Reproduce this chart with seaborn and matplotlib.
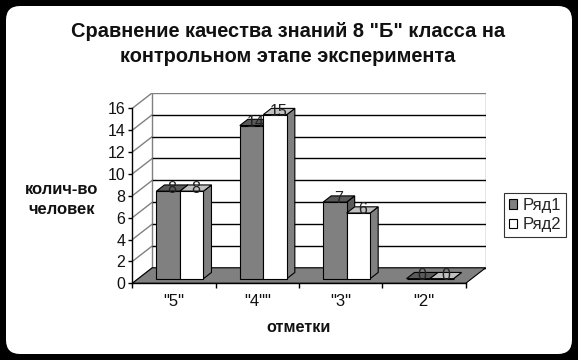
import numpy as np
import pandas as pd
import seaborn as sns
import matplotlib
matplotlib.use("Agg")
import matplotlib.pyplot as plt
from matplotlib.patches import Polygon, FancyBboxPatch, Patch
from matplotlib.transforms import IdentityTransform

# ---- data ----
categories = ['"5"', '"4""', '"3"', '"2"']
series_names = ["Ряд1", "Ряд2"]
row1 = [8, 14, 7, 0]
row2 = [8, 15, 6, 0]
yticks = [0, 2, 4, 6, 8, 10, 12, 14, 16]
title1 = 'Сравнение качества знаний 8 "Б" класса на'
title2 = "контрольном этапе эксперимента"
ylabel1 = "колич-во"
ylabel2 = "человек"
xlabel = "отметки"

sns.set_theme(style="white")
plt.rcParams["font.family"] = ["Liberation Sans", "DejaVu Sans"]

W, H = 578, 360
fig = plt.figure(figsize=(W / 100, H / 100), dpi=100, facecolor="black")
fig.add_artist(FancyBboxPatch((6, 6), 566, 348, boxstyle="round,pad=0,rounding_size=14",
                              transform=IdentityTransform(), fc="white", ec="none", zorder=-10))

px_cat = 83.35
px_unit = 10.9375
DX = 20 / px_cat
DY = 15.5 / px_unit
ymax = yticks[-1]
nc = len(categories)

left_px, bottom_px = 132.3, H - 283.3
ax = fig.add_axes([left_px / W, bottom_px / H, (nc + DX) * px_cat / W, (ymax + DY) * px_unit / H])
ax.set_facecolor("none")

df = pd.DataFrame({
    "cat": categories * 2,
    "series": [series_names[0]] * nc + [series_names[1]] * nc,
    "value": row1 + row2,
})
sns.barplot(data=df, x="cat", y="value", hue="series", palette=["#808080", "#ffffff"],
            width=0.564, edgecolor="black", linewidth=0.8, legend=False, ax=ax, zorder=5)

ax.set_xlim(-0.5, nc - 0.5 + DX)
ax.set_ylim(0, ymax + DY)

# back wall
ax.add_patch(Polygon([(-0.5 + DX, DY), (nc - 0.5 + DX, DY), (nc - 0.5 + DX, ymax + DY), (-0.5 + DX, ymax + DY)],
                     closed=True, fc="white", ec="#808080", lw=1, zorder=0.5))
for t in yticks[:-1]:
    ax.plot([-0.5 + DX, nc - 0.5 + DX], [t + DY, t + DY], color="black", lw=1, zorder=0.6)
    ax.plot([-0.5, -0.5 + DX], [t, t + DY], color="#808080", lw=1, zorder=0.6)
ax.plot([-0.5, -0.5 + DX], [ymax, ymax + DY], color="#808080", lw=1, zorder=0.6)
# floor
ax.add_patch(Polygon([(-0.5, 0), (nc - 0.5, 0), (nc - 0.5 + DX, DY), (-0.5 + DX, DY)],
                     closed=True, fc="#808080", ec="black", lw=0.8, zorder=1))

# 3D bars
f0 = 0.3
bdx, bdy = 0.4 * DX, 0.4 * DY
top_cols = ["#5a5a5a", "#c0c0c0"]
side_cols = ["#5a5a5a", "#808080"]
for s, cont in enumerate(ax.containers[:2]):
    for i, p in enumerate(cont.patches):
        p.set_x(p.get_x() + f0 * DX)
        p.set_y(p.get_y() + f0 * DY)
        x, y0, w, h = p.get_x(), p.get_y(), p.get_width(), p.get_height()
        y1 = y0 + h
        zo = 3 + i * 4 + s * 2
        p.set_zorder(zo + 1)
        ax.add_patch(Polygon([(x + w, y0), (x + w + bdx, y0 + bdy), (x + w + bdx, y1 + bdy), (x + w, y1)],
                             closed=True, fc=side_cols[s], ec="black", lw=0.8, zorder=zo))
        ax.add_patch(Polygon([(x, y1), (x + w, y1), (x + w + bdx, y1 + bdy), (x + bdx, y1 + bdy)],
                             closed=True, fc=top_cols[s], ec="black", lw=0.8, zorder=zo))
        ax.text(x + w / 2 + bdx / 2, y1 + bdy / 2, f"{h:g}", ha="center", va="center",
                fontsize=11.5, color="#222222", zorder=40)

# axes styling
for side in ["top", "right"]:
    ax.spines[side].set_visible(False)
ax.spines["left"].set_bounds(0, ymax)
ax.spines["bottom"].set_bounds(-0.5, nc - 0.5)
for side in ["left", "bottom"]:
    ax.spines[side].set_color("black")
    ax.spines[side].set_linewidth(1)
    ax.spines[side].set_zorder(30)
ax.set_yticks(yticks)
ax.set_yticklabels([str(t) for t in yticks])
ax.set_xticks(range(nc))
ax.set_xticklabels(categories)
ax.set_xticks(np.arange(-0.5, nc, 1), minor=True)
ax.tick_params(axis="y", which="major", direction="out", length=3, width=1, color="black",
               labelsize=11.5, pad=2, left=True, labelcolor="#111111")
ax.tick_params(axis="x", which="major", length=0, labelsize=12, pad=8, labelcolor="#111111")
ax.tick_params(axis="x", which="minor", direction="out", length=3.5, width=1, color="black", bottom=True)
ax.set_xlabel("")
ax.set_ylabel("")

fig.text(288 / W, 1 - 31.5 / H, title1, ha="center", va="center", fontsize=14.4, weight="bold", color="#111111")
fig.text(288 / W, 1 - 56.7 / H, title2, ha="center", va="center", fontsize=14.4, weight="bold", color="#111111")
fig.text(62 / W, 1 - 189 / H, ylabel1, ha="center", va="center", fontsize=12, weight="bold", color="#111111")
fig.text(62 / W, 1 - 209 / H, ylabel2, ha="center", va="center", fontsize=12, weight="bold", color="#111111")
fig.text(298.5 / W, 1 - 328 / H, xlabel, ha="center", va="center", fontsize=11.7, weight="bold", color="#111111")

handles = [Patch(fc="#808080", ec="black", lw=0.8), Patch(fc="white", ec="black", lw=0.8)]
leg = fig.legend(handles, series_names, loc="upper left", bbox_to_anchor=(504 / W, 1 - 193 / H),
                 frameon=True, fancybox=False, edgecolor="black", facecolor="white", borderaxespad=0,
                 fontsize=12, handlelength=0.5, handleheight=0.5, handletextpad=0.3,
                 borderpad=0.3, labelspacing=0.25)
leg.get_frame().set_linewidth(0.8)

fig.savefig("out.png", dpi=100, facecolor="black")
